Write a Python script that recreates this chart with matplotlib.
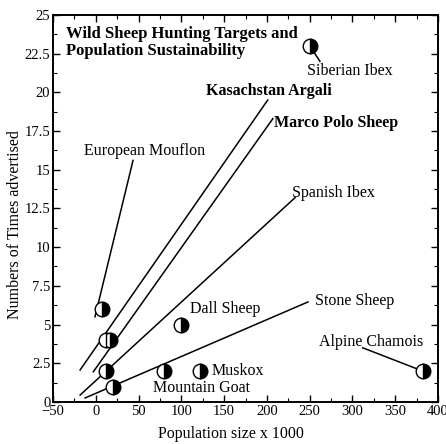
import matplotlib
matplotlib.use("Agg")
import matplotlib.pyplot as plt
import matplotlib.ticker as mticker

plt.rcParams.update({
    "font.family": "serif",
    "font.serif": ["Liberation Serif", "DejaVu Serif"],
    "axes.linewidth": 1.4,
})

# population (x 1000) vs number of hunts advertised
species = ["European Mouflon", "Marco Polo Sheep", "Kasachstan Argali", "Spanish Ibex",
           "Stone Sheep", "Mountain Goat", "Dall Sheep", "Muskox",
           "Siberian Ibex", "Alpine Chamois"]
population = [7, 17, 12, 12, 20, 80, 100, 122, 250, 382]
times_advertised = [6, 4, 4, 2, 1, 2, 5, 2, 23, 2]

# label text and its anchor in data units
label_text = ["European Mouflon", "Kasachstan Argali", "Marco Polo Sheep", "Spanish Ibex",
              "Stone Sheep", "Mountain Goat", "Dall Sheep", "Muskox",
              "Siberian Ibex", "Alpine Chamois"]
label_x = [57, 202, 281, 278, 302, 124, 151, 166, 297, 322]
label_y = [16.2, 20.1, 18.0, 13.5, 6.5, 0.9, 6.0, 2.0, 21.4, 3.9]
label_bold = [False, True, True, False, False, False, False, False, False, False]

# leader lines: (x0, y0, x1, y1)
leaders = [
    (43.5, 15.6, -1, 5.5),
    (201, 19.5, -18.4, 2.07),
    (207, 18.3, -3, 1.95),
    (233, 13.2, -18.4, 0.45),
    (248, 6.46, -12.6, 0.26),
    (262, 22.0, 250, 23),
    (312, 3.5, 382, 2),
]

x_ticks = [-50, 0, 50, 100, 150, 200, 250, 300, 350, 400]
y_ticks = [0, 2.5, 5, 7.5, 10, 12.5, 15, 17.5, 20, 22.5, 25]

fig = plt.figure(figsize=(4.46, 4.44), dpi=100)
ax = fig.add_axes([0.119, 0.0946, 0.863, 0.872])

for x0, y0, x1, y1 in leaders:
    ax.plot([x0, x1], [y0, y1], color="black", lw=1.1, zorder=2)

ax.plot(population, times_advertised, linestyle="none", marker="o", markersize=10.5,
        fillstyle="right", markerfacecolor="black", markerfacecoloralt="white",
        markeredgecolor="black", markeredgewidth=1.0, zorder=3)

for t, lx, ly, b in zip(label_text, label_x, label_y, label_bold):
    ax.text(lx, ly, t, ha="center", va="center", fontsize=11.5,
            fontweight="bold" if b else "normal", zorder=4)

ax.text(-35, 24.3, "Wild Sheep Hunting Targets and\nPopulation Sustainability",
        ha="left", va="top", fontsize=12, fontweight="bold", linespacing=1.15)

ax.set_xlim(-50, 400)
ax.set_ylim(0, 25)
ax.set_xticks(x_ticks)
ax.set_yticks(y_ticks)
ax.xaxis.set_minor_locator(mticker.MultipleLocator(25))
ax.yaxis.set_minor_locator(mticker.MultipleLocator(1.25))
ax.yaxis.set_major_formatter(mticker.FormatStrFormatter("%g"))
ax.tick_params(which="both", direction="in", top=True, right=True, labelsize=10.5, pad=2)
ax.tick_params(which="major", length=5, width=1.0)
ax.tick_params(which="minor", length=3, width=0.8)

ax.set_xlabel("Population size x 1000", fontsize=11.5)
ax.set_ylabel("Numbers of Times advertised", fontsize=11.5)
ax.xaxis.set_label_coords(0.462, -0.062)
ax.yaxis.set_label_coords(-0.078, 0.457)

fig.savefig("out.png", dpi=100)
